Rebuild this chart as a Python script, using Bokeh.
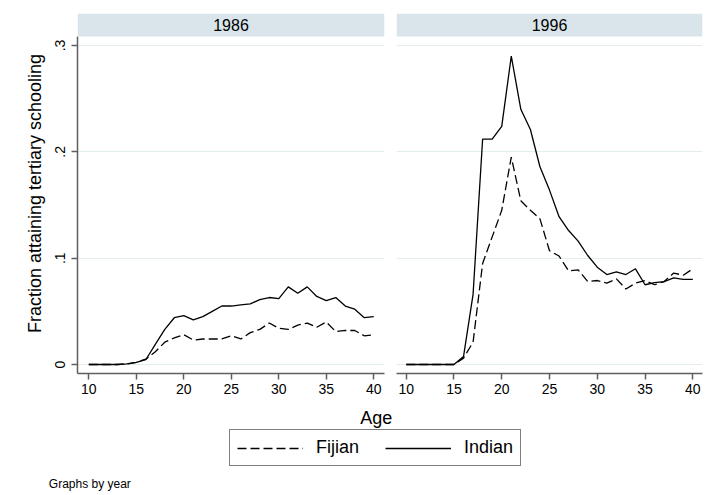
from bokeh.plotting import figure
from bokeh.layouts import column, row
from bokeh.models import Range1d, FixedTicker, BoxAnnotation, Label, Legend, LegendItem
from bokeh.embed import file_html
from bokeh.resources import INLINE

# ---------------- data ----------------
ages = list(range(10, 41))
years = ["1986", "1996"]
series_names = ["Fijian", "Indian"]

fijian_1986 = [0, 0, 0, 0, 0.0005, 0.002, 0.005, 0.012, 0.021, 0.025, 0.028,
               0.023, 0.024, 0.024, 0.024, 0.027, 0.024, 0.030, 0.033, 0.039, 0.034,
               0.033, 0.037, 0.039, 0.035, 0.040, 0.031, 0.032, 0.032, 0.027, 0.028]
indian_1986 = [0, 0, 0, 0, 0.0005, 0.002, 0.0045, 0.019, 0.033, 0.044, 0.046,
               0.042, 0.045, 0.050, 0.055, 0.055, 0.056, 0.057, 0.061, 0.063, 0.062,
               0.073, 0.067, 0.073, 0.064, 0.060, 0.063, 0.055, 0.052, 0.044, 0.045]
fijian_1996 = [0, 0, 0, 0, 0, 0, 0.006, 0.021, 0.095, 0.120, 0.145,
               0.195, 0.154, 0.145, 0.137, 0.107, 0.102, 0.088, 0.089, 0.078, 0.079,
               0.0765, 0.0805, 0.071, 0.0765, 0.079, 0.075, 0.078, 0.086, 0.084, 0.090]
indian_1996 = [0, 0, 0, 0, 0, 0, 0.0075, 0.066, 0.212, 0.212, 0.224,
               0.290, 0.240, 0.221, 0.186, 0.164, 0.139, 0.126, 0.116, 0.1025, 0.0915,
               0.0846, 0.087, 0.0846, 0.090, 0.075, 0.077, 0.078, 0.0815, 0.080, 0.080]

x_ticks = [10, 15, 20, 25, 30, 35, 40]
y_ticks = [0, 0.1, 0.2, 0.3]
y_tick_labels = ["0", ".1", ".2", ".3"]

# ---------------- style ----------------
FONT = "Liberation Sans"
STRIP = "#d9e5eb"
GRID = "#e3ecef"
AXIS = "#5f5f5f"
Y_START, Y_END = -0.00846, 0.3301
STRIP_BOTTOM = 0.30847
DASH = "9 4"
NAN = float("nan")


def make_panel(year, fij, ind, width, mb_left, mb_right, xr, show_y):
    p = figure(width=width, height=406,
               x_range=Range1d(*xr), y_range=Range1d(Y_START, Y_END),
               output_backend="svg", toolbar_location=None,
               min_border_left=mb_left, min_border_right=mb_right,
               min_border_top=13, min_border_bottom=33)
    p.outline_line_color = None
    p.background_fill_color = "white"
    p.border_fill_color = "white"
    p.xgrid.visible = False
    p.ygrid.ticker = FixedTicker(ticks=y_ticks)
    p.ygrid.grid_line_color = GRID
    p.ygrid.grid_line_width = 1.2

    # x axis
    xa = p.xaxis[0]
    xa.ticker = FixedTicker(ticks=x_ticks)
    xa.axis_line_color = AXIS
    xa.axis_line_width = 1.5
    xa.major_tick_line_color = AXIS
    xa.major_tick_line_width = 1.5
    xa.major_tick_out = 6
    xa.major_tick_in = 0
    xa.minor_tick_line_color = None
    xa.major_label_text_font = FONT
    xa.major_label_text_font_size = "14px"
    xa.major_label_text_color = "black"
    xa.major_label_standoff = 4

    ya = p.yaxis[0]
    if show_y:
        ya.ticker = FixedTicker(ticks=y_ticks)
        ya.major_label_overrides = {t: s for t, s in zip(y_ticks, y_tick_labels)}
        ya.major_label_orientation = "vertical"
        ya.bounds = (Y_START, STRIP_BOTTOM)
        ya.axis_line_color = AXIS
        ya.axis_line_width = 1.5
        ya.major_tick_line_color = AXIS
        ya.major_tick_line_width = 1.5
        ya.major_tick_out = 6
        ya.major_tick_in = 0
        ya.minor_tick_line_color = None
        ya.major_label_text_font = FONT
        ya.major_label_text_font_size = "14px"
        ya.major_label_text_color = "black"
        ya.major_label_standoff = 6
        ya.axis_label = "Fraction attaining tertiary schooling"
        ya.axis_label_text_font = FONT
        ya.axis_label_text_font_size = "18px"
        ya.axis_label_text_font_style = "normal"
        ya.axis_label_text_color = "black"
        ya.axis_label_standoff = 8
    else:
        ya.visible = False

    # strip with the year
    p.add_layout(BoxAnnotation(bottom=STRIP_BOTTOM, fill_color=STRIP, fill_alpha=1,
                               line_color=None, line_alpha=0))
    p.add_layout(Label(x=(xr[0] + xr[1]) / 2, y=(STRIP_BOTTOM + Y_END) / 2, text=year,
                       text_align="center", text_baseline="middle",
                       text_font=FONT, text_font_size="16px", text_color="black"))

    p.line(ages, fij, line_color="black", line_width=1.3, line_dash=DASH)
    p.line(ages, ind, line_color="black", line_width=1.3)
    return p


p1 = make_panel(years[0], fijian_1986, indian_1986, 390, 77, 6, (8.81, 41.13), True)
p2 = make_panel(years[1], fijian_1996, indian_1996, 326, 6, 14, (8.985, 41.015), False)

# ---------------- bottom: axis title, legend, note ----------------
pb = figure(width=716, height=89, x_range=Range1d(0, 716), y_range=Range1d(0, 89),
            output_backend="svg", toolbar_location=None, min_border=0)
pb.outline_line_color = None
pb.axis.visible = False
pb.grid.visible = False
pb.border_fill_color = "white"

# legend-only renderers (no visible data)
r_f = pb.line(x=[NAN, NAN], y=[NAN, NAN], line_color="black", line_width=1.3, line_dash=DASH)
r_i = pb.line(x=[NAN, NAN], y=[NAN, NAN], line_color="black", line_width=1.3)

legend = Legend(items=[LegendItem(label=series_names[0], renderers=[r_f]),
                       LegendItem(label=series_names[1], renderers=[r_i])],
                orientation="horizontal", location=(229, 29),
                label_text_font=FONT, label_text_font_size="18px", label_text_color="black",
                glyph_width=66, glyph_height=20, label_height=20,
                label_standoff=13, spacing=26, padding=7, margin=0,
                border_line_color="black", border_line_width=1,
                background_fill_color="white", background_fill_alpha=1)
pb.add_layout(legend)

pb.add_layout(Label(x=375.7, y=78, x_units="screen", y_units="screen", text="Age",
                    text_align="center", text_baseline="middle",
                    text_font=FONT, text_font_size="18px", text_color="black"))
pb.add_layout(Label(x=48.3, y=12, x_units="screen", y_units="screen", text="Graphs by year",
                    text_align="left", text_baseline="middle",
                    text_font=FONT, text_font_size="12px", text_color="black"))

layout = column(row(p1, p2), pb)

open("out.html", "w").write(file_html(layout, INLINE))
